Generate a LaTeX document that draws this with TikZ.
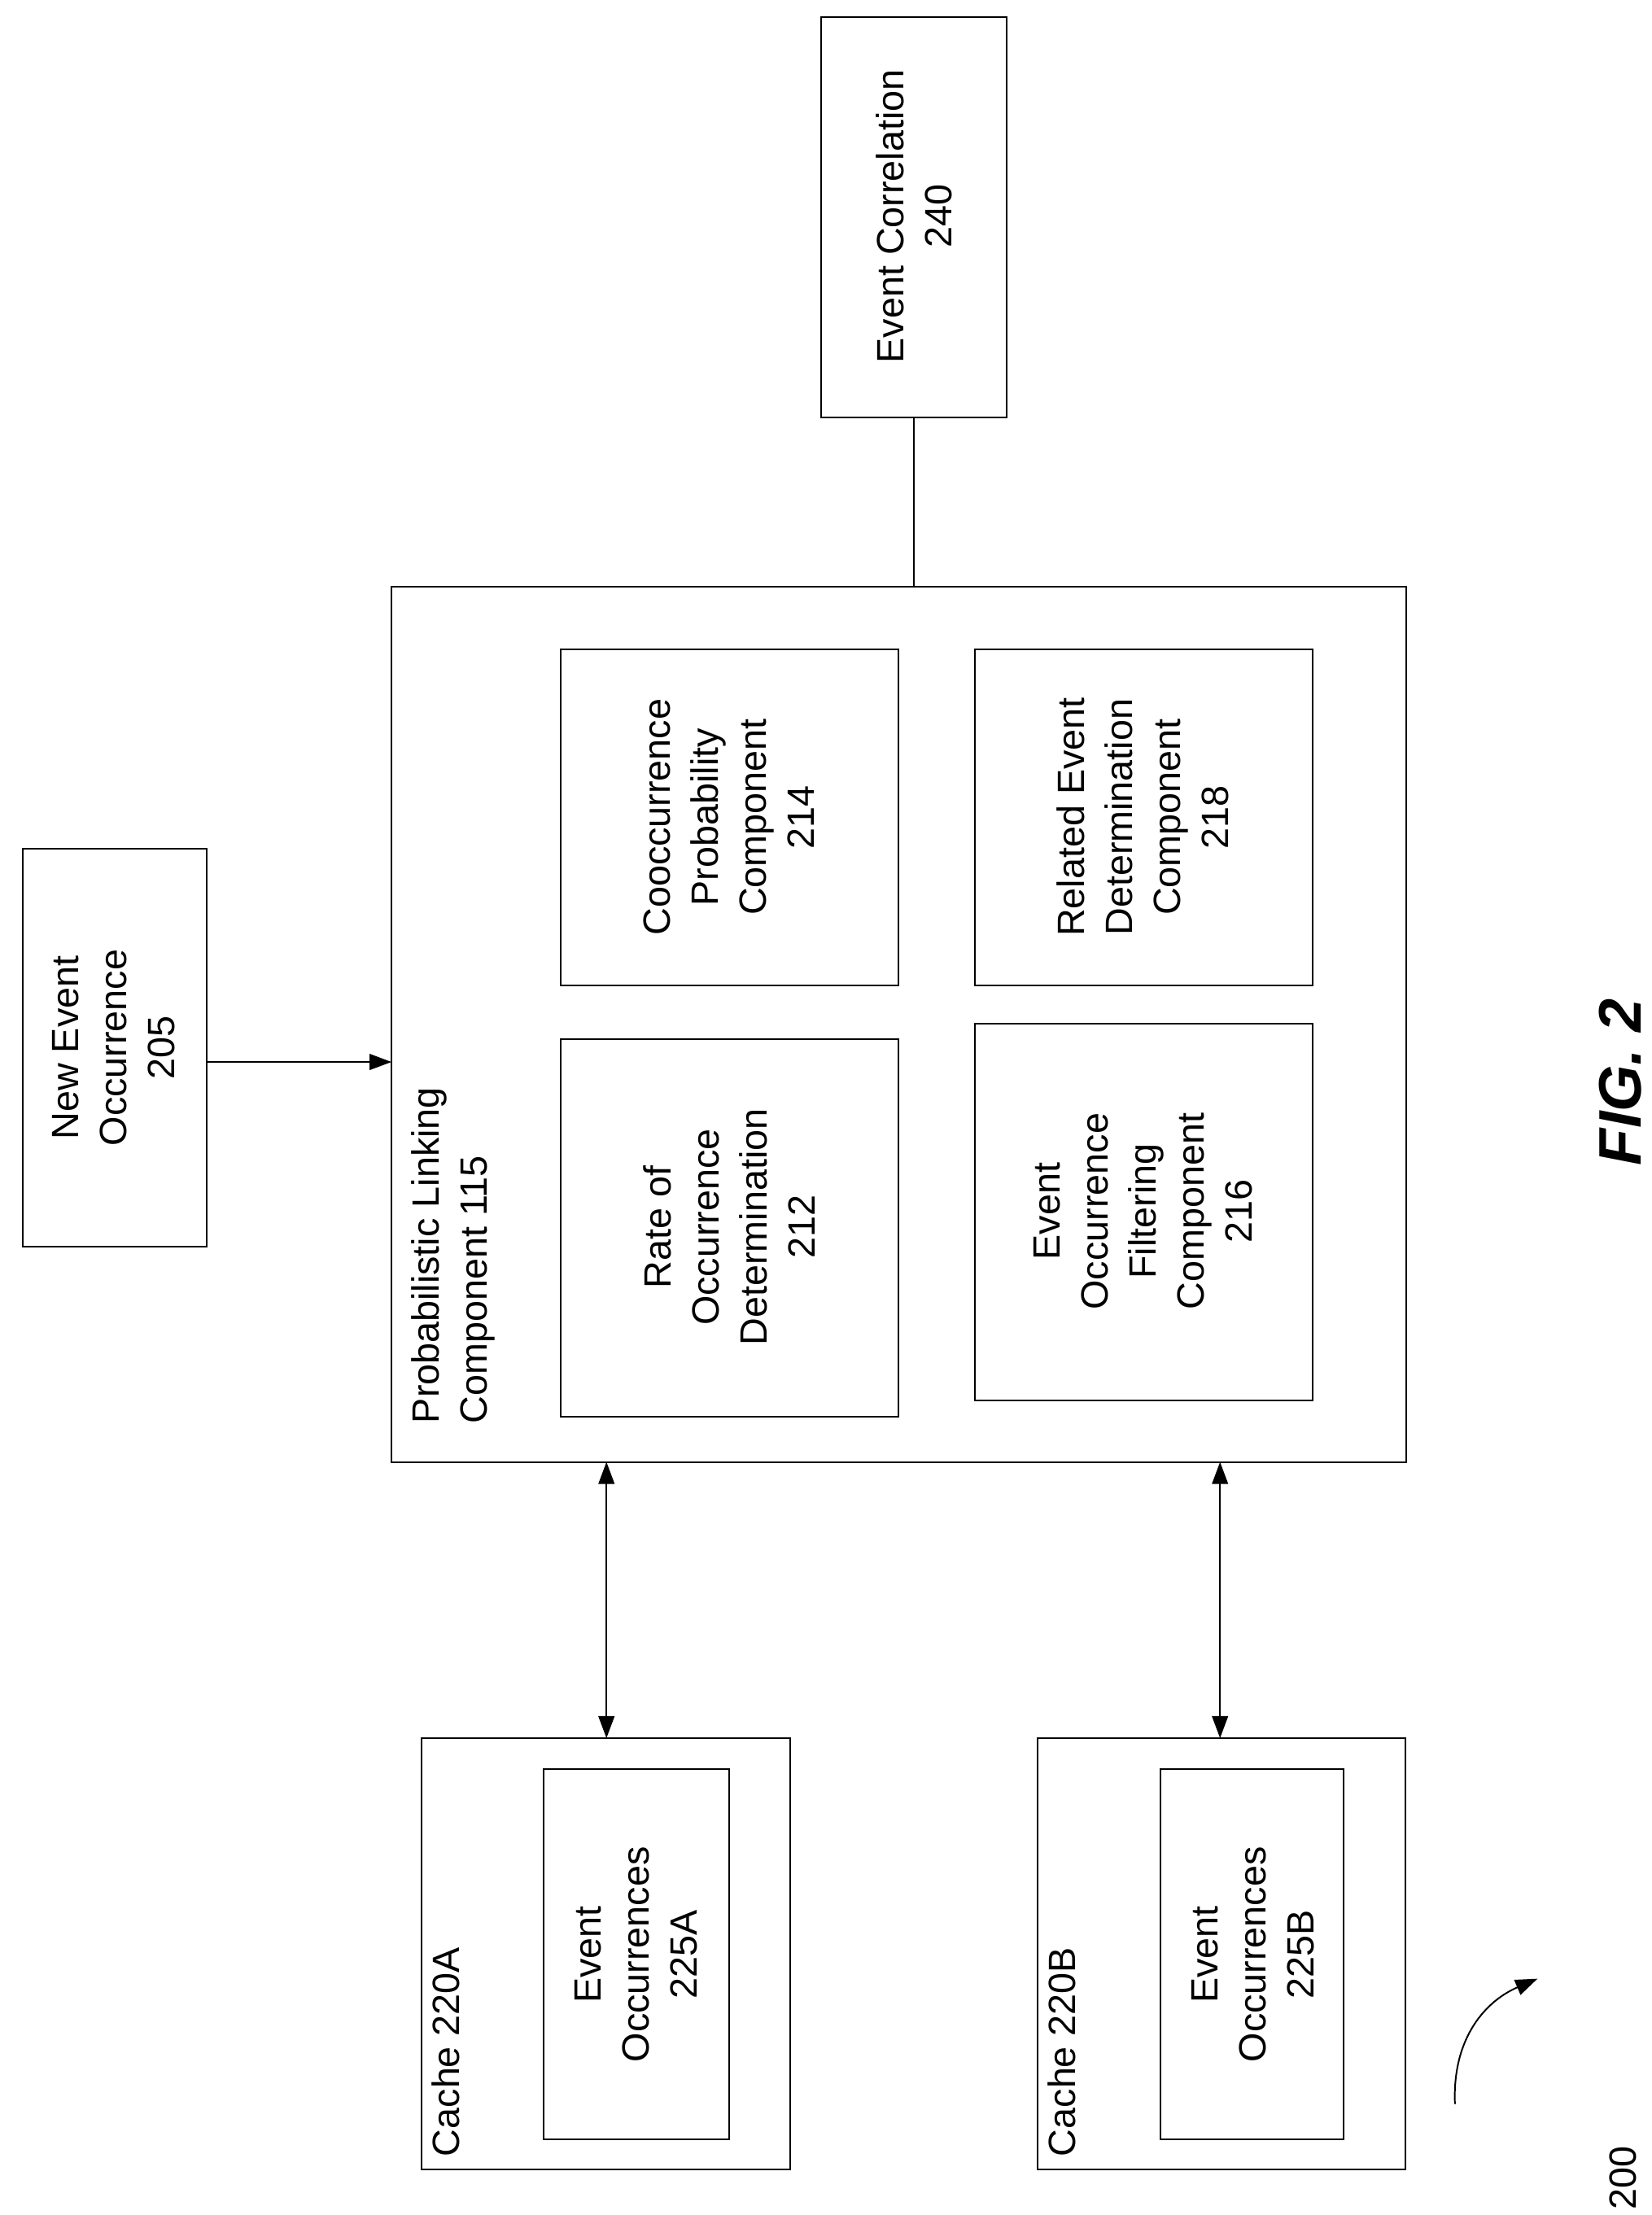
\documentclass[tikz,border=0pt]{standalone}
\usepackage{fontspec}
\setmainfont{Liberation Sans}
\usetikzlibrary{arrows.meta}
\begin{document}
\begin{tikzpicture}[x=0.5mm,y=-0.5mm,
  box/.style={draw,line width=1.6pt},
  txt/.style={rotate=90,align=center,font=\fontsize{38}{48}\selectfont},
  lbl/.style={rotate=90,align=left,anchor=north west,font=\fontsize{38}{48}\selectfont,inner sep=0pt},
  arr/.style={line width=1.6pt,-{Triangle[length=22pt,width=16pt]}},
  darr/.style={line width=1.6pt,{Triangle[length=22pt,width=16pt]}-{Triangle[length=22pt,width=16pt]}}]
\useasboundingbox (0,0) rectangle (1160,1556);
\draw[box] (577,12) rectangle (707,293);
\node[txt] (ec) at (642,152) {Event Correlation\\240};
\draw[box] (275,412) rectangle (988,1027);
\coordinate (plTop) at (642,412);
\coordinate (ecBot) at (642,293);
\node[lbl] (pl) at (289,1000) {Probabilistic Linking\\Component 115};
\draw[box] (394,456) rectangle (631,692);
\node[txt] (co) at (512,574) {Cooccurrence\\Probability\\Component\\214};
\draw[box] (685,456) rectangle (922,692);
\node[txt] (re) at (803,574) {Related Event\\Determination\\Component\\218};
\draw[box] (394,730) rectangle (631,995);
\node[txt] (ro) at (512,862) {Rate of\\Occurrence\\Determination\\212};
\draw[box] (685,719) rectangle (922,984);
\node[txt] (ef) at (803,851) {Event\\Occurrence\\Filtering\\Component\\216};
\draw[box] (16,596) rectangle (145,876);
\node[txt] (ne) at (80,736) {New Event\\Occurrence\\205};
\coordinate (neR) at (145,746);
\coordinate (plL) at (275,746);
\draw[arr] (neR) -- (plL);
\draw[line width=1.6pt] (ecBot) -- (plTop);
\draw[box] (296,1221) rectangle (555,1524);
\draw[box] (382,1243) rectangle (512,1503);
\node[lbl] (ca) at (303,1515) {Cache 220A};
\node[txt] (ea) at (447,1373) {Event\\Occurrences\\225A};
\draw[box] (729,1221) rectangle (987,1524);
\draw[box] (815,1243) rectangle (944,1503);
\node[lbl] (cb) at (736,1515) {Cache 220B};
\node[txt] (eb) at (880,1373) {Event\\Occurrences\\225B};
\coordinate (a1) at (426,1027); \coordinate (a2) at (426,1221);
\coordinate (b1) at (857,1027); \coordinate (b2) at (857,1221);
\draw[darr] (a1) -- (a2);
\draw[darr] (b1) -- (b2);
\node[txt] (n200) at (1140,1530) {200};
\coordinate (c1) at (1022,1478); \coordinate (c2) at (1080,1390);
\draw[arr] (c1) .. controls (1020,1430) and (1045,1405) .. (c2);
\node[rotate=90,font=\fontsize{60}{70}\selectfont\bfseries\itshape] (fig) at (1138,760) {FIG. 2};
\end{tikzpicture}
\end{document}
